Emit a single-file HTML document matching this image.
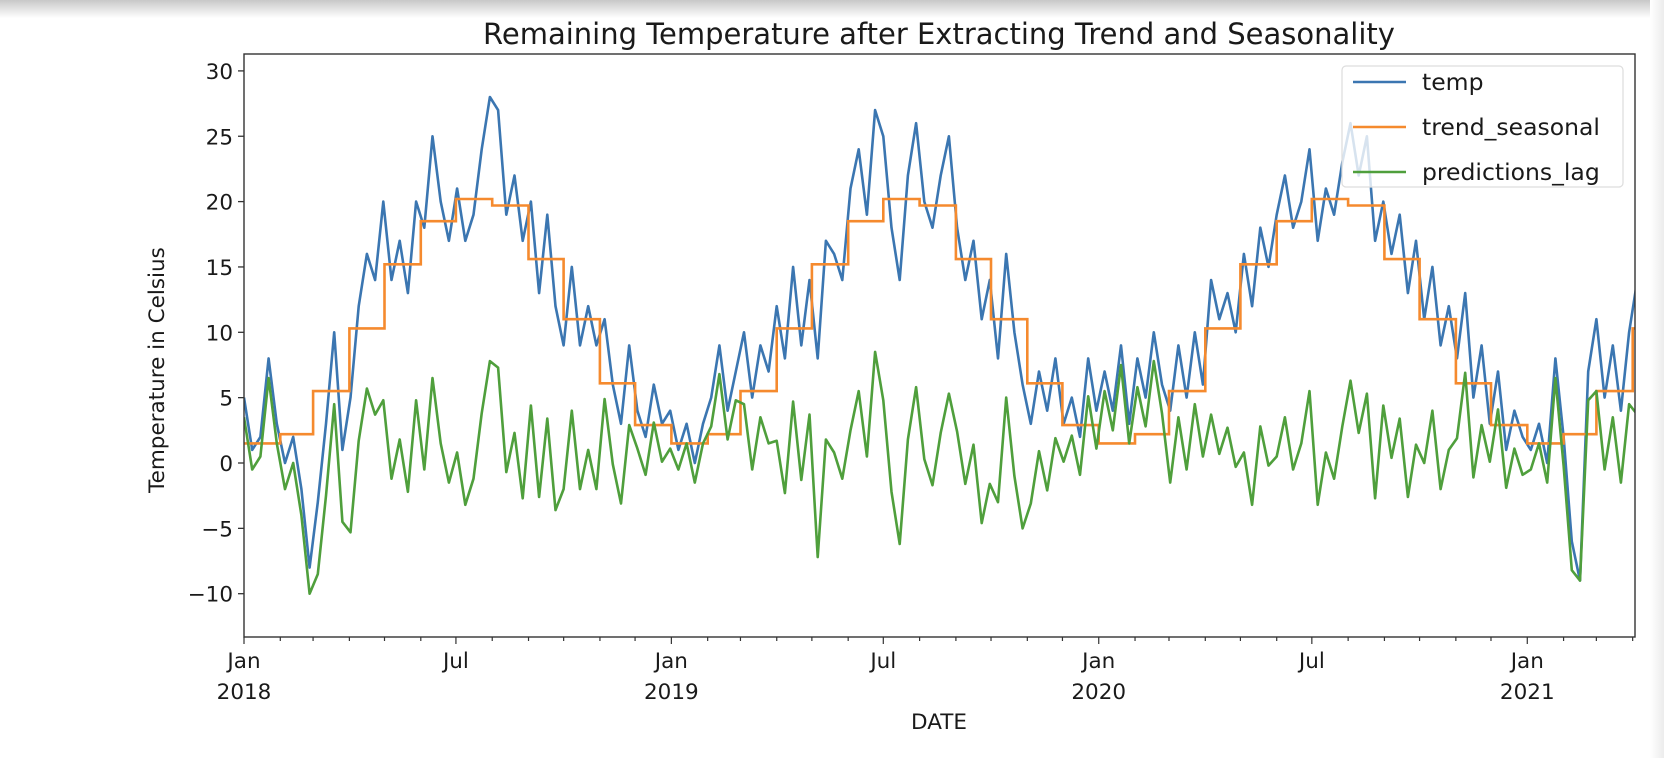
<!DOCTYPE html>
<html><head><meta charset="utf-8"><style>
html,body{margin:0;padding:0;background:#fff;}
#wrap{position:relative;width:1664px;height:758px;overflow:hidden;background:#fff;font-family:"Liberation Sans","DejaVu Sans",sans-serif;}
#shadow{position:absolute;left:0;top:0;width:1664px;height:18px;background:linear-gradient(#c8c8c8,#fff);}
#rstrip{position:absolute;right:0;top:0;width:14px;height:758px;background:linear-gradient(90deg,#fff,#ececec);}
svg text{font-family:"DejaVu Sans","Liberation Sans",sans-serif;fill:#1a1a1a;}
</style></head><body>
<div id="wrap">
<div id="shadow"></div>
<div id="rstrip"></div>
<svg id="chart" width="1664" height="758" style="position:absolute;left:0;top:0"></svg>
</div>
<script>
const seasonalByMonth = [1.5,2.2,5.5,10.3,15.2,18.5,20.2,19.7,15.6,11.0,6.1,2.9];
const tempWeekly = [5,1,2,8,3,0,2,-2,-8,-3,3,10,1,5,12,16,14,20,14,17,13,20,18,25,20,17,21,17,19,24,28,27,19,22,17,20,13,19,12,9,15,9,12,9,11,6,3,9,4,2,6,3,4,
1,3,0,3,5,9,4,7,10,5,9,7,12,8,15,9,14,8,17,16,14,21,24,19,27,25,18,14,22,26,20,18,22,25,18,14,17,11,14,8,16,10,6,3,7,4,8,3,5,2,8,4,
7,4,9,3,8,5,10,6,4,9,5,10,6,14,11,13,10,16,12,18,15,19,22,18,20,24,17,21,19,23,26,22,25,17,20,16,19,13,17,11,15,9,12,8,13,5,9,3,7,1,4,2,
1,3,0,8,2,-6,-9,7,11,5,9,4,10,14];
const residWeekly = [3.5,-0.5,0.5,6.5,1.5,-2,0,-4,-10,-8.5,-2.5,4.5,-4.5,-5.3,1.7,5.7,3.7,4.8,-1.2,1.8,-2.2,4.8,-0.5,6.5,1.5,-1.5,0.8,-3.2,-1.2,3.8,7.8,7.3,-0.7,2.3,-2.7,4.4,-2.6,3.4,-3.6,-2,4,-2,1,-2,4.9,-0.1,-3.1,2.9,1.1,-0.9,3.1,0.1,1.1,
-0.5,1.5,-1.5,1.5,2.8,6.8,1.8,4.8,4.5,-0.5,3.5,1.5,1.7,-2.3,4.7,-1.3,3.7,-7.2,1.8,0.8,-1.2,2.5,5.5,0.5,8.5,4.8,-2.2,-6.2,1.8,5.8,0.3,-1.7,2.3,5.3,2.4,-1.6,1.4,-4.6,-1.6,-3,5,-1,-5,-3.1,0.9,-2.1,1.9,0.1,2.1,-0.9,5.1,1.1,
5.5,2.5,7.5,1.5,5.8,2.8,7.8,3.8,-1.5,3.5,-0.5,4.5,0.5,3.7,0.7,2.7,-0.3,0.8,-3.2,2.8,-0.2,0.5,3.5,-0.5,1.5,5.5,-3.2,0.8,-1.2,2.8,6.3,2.3,5.3,-2.7,4.4,0.4,3.4,-2.6,1.4,0,4,-2,1,1.9,6.9,-1.1,2.9,0.1,4.1,-1.9,1.1,-0.9,
-0.5,1.5,-1.5,6.5,-0.2,-8.2,-9,4.8,5.5,-0.5,3.5,-1.5,4.5,3.7];
const yTicks = [-10,-5,0,5,10,15,20,25,30];
const xMajorLabels = [["Jan","2018"],["Jul",""],["Jan","2019"],["Jul",""],["Jan","2020"],["Jul",""],["Jan","2021"]];

const L=244,R=1635,T=54,B=637;
const startMs=Date.UTC(2018,0,1), endDay=1188;
function dayOf(y,m){return (Date.UTC(y,m,1)-startMs)/86400000;}
function xs(d){return L+(d/endDay)*(R-L);}
function ys(v){return 463-v*13.07;}
const NS="http://www.w3.org/2000/svg";
const svg=document.getElementById('chart');
function mk(tag,attrs,parent){const e=document.createElementNS(NS,tag);for(const k in attrs)e.setAttribute(k,attrs[k]);(parent||svg).appendChild(e);return e;}

const defs=mk('defs',{});const cp=mk('clipPath',{id:'clip'},defs);mk('rect',{x:L,y:T,width:R-L,height:B-T},cp);
const g=mk('g',{'clip-path':'url(#clip)'});



let p='';tempWeekly.forEach((v,i)=>{p+=(i?'L':'M')+xs(i*7).toFixed(1)+','+ys(v).toFixed(1);});
const tl=mk('path',{d:p,fill:'none',stroke:'#3b76b1','stroke-width':2.6,'stroke-linejoin':'round'},g);


let q='';let first=true;
for(let y=2018;y<=2021;y++){for(let m=0;m<12;m++){const d0=dayOf(y,m);if(d0>endDay)break;const d1=dayOf(y,m+1);const v=seasonalByMonth[m];
q+=(first?'M':'L')+xs(d0).toFixed(1)+','+ys(v).toFixed(1)+'L'+xs(d1).toFixed(1)+','+ys(v).toFixed(1);first=false;}}
const ol=mk('path',{d:q,fill:'none',stroke:'#f58a2e','stroke-width':2.6},g);


let r='';residWeekly.forEach((v,i)=>{r+=(i?'L':'M')+xs(i*7).toFixed(1)+','+ys(v).toFixed(1);});
const gl=mk('path',{d:r,fill:'none',stroke:'#4f9f3c','stroke-width':2.6,'stroke-linejoin':'round'},g);



const fr=mk('rect',{x:L,y:T,width:R-L,height:B-T,fill:'none',stroke:'#333','stroke-width':1.4});



yTicks.forEach(v=>{const y=ys(v);mk('line',{x1:L-6,x2:L,y1:y,y2:y,stroke:'#333','stroke-width':1.3});
const t=mk('text',{x:L-11,y:y+8,'text-anchor':'end','font-size':21.5});t.textContent=(v<0?'\u2212':'')+Math.abs(v);

});
for(let y=2018;y<=2021;y++)for(let m=0;m<12;m++){const d=dayOf(y,m);if(d>endDay)break;const x=xs(d);
const major=(m===0||m===6);mk('line',{x1:x,x2:x,y1:B,y2:B+(major?7:4),stroke:'#333','stroke-width':1.2});}
xMajorLabels.forEach((lab,i)=>{const d=dayOf(2018+Math.floor(i/2),(i%2)*6);const x=xs(d);
const t=mk('text',{x:x,y:668,'text-anchor':'middle','font-size':21.5});t.textContent=lab[0];


if(lab[1]){const t2=mk('text',{x:x,y:699,'text-anchor':'middle','font-size':21.5});t2.textContent=lab[1];

}});

const title=mk('text',{x:939,y:44,'text-anchor':'middle','font-size':29});title.textContent='Remaining Temperature after Extracting Trend and Seasonality';


const xl=mk('text',{x:939,y:729,'text-anchor':'middle','font-size':21.5});xl.textContent='DATE';


const yl=mk('text',{x:0,y:0,'text-anchor':'middle','font-size':21.5,transform:'translate(164,370) rotate(-90)'});yl.textContent='Temperature in Celsius';



const lg=mk('g',{});


mk('rect',{x:1342,y:66,width:281,height:121,rx:4,fill:'rgba(255,255,255,0.8)',stroke:'#ddd','stroke-width':1.2},lg);
const entries=[['temp','#3b76b1'],['trend_seasonal','#f58a2e'],['predictions_lag','#4f9f3c']];
entries.forEach((e,i)=>{const y=82+i*45;mk('line',{x1:1353,x2:1406,y1:y,y2:y,stroke:e[1],'stroke-width':2.6},lg);
const t=mk('text',{x:1422,y:y+8,'font-size':23.5},lg);t.textContent=e[0];

});
</script>
</body></html>
